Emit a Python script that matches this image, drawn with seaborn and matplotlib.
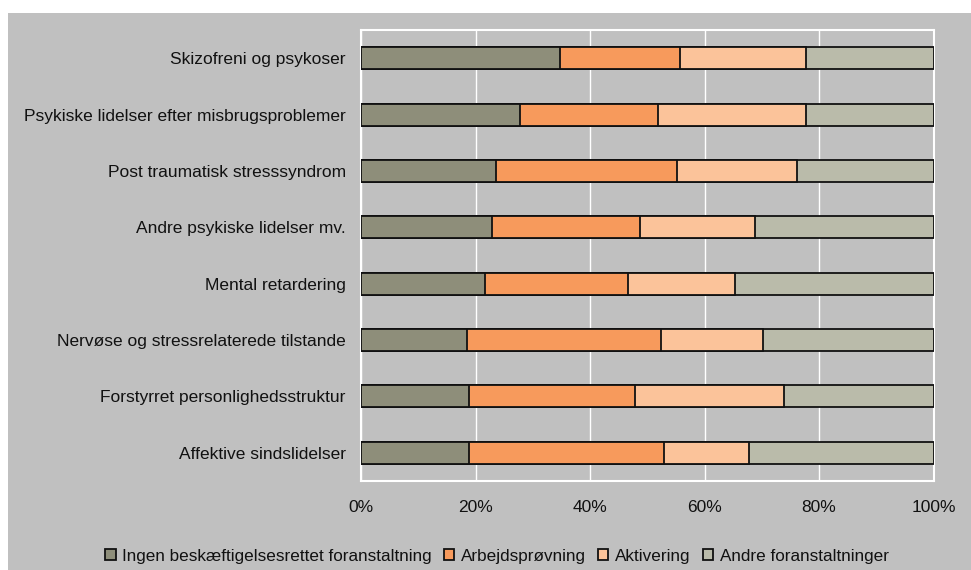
import matplotlib
matplotlib.use("Agg")
import matplotlib.pyplot as plt
import seaborn as sns
import pandas as pd
import numpy as np
from matplotlib.patches import Rectangle, Patch
from matplotlib.ticker import PercentFormatter

categories = [
    "Skizofreni og psykoser",
    "Psykiske lidelser efter misbrugsproblemer",
    "Post traumatisk stresssyndrom",
    "Andre psykiske lidelser mv.",
    "Mental retardering",
    "Nervøse og stressrelaterede tilstande",
    "Forstyrret personlighedsstruktur",
    "Affektive sindslidelser",
]
series_names = [
    "Ingen beskæftigelsesrettet foranstaltning",
    "Arbejdsprøvning",
    "Aktivering",
    "Andre foranstaltninger",
]
ingen = [34.7, 27.7, 23.6, 22.8, 21.6, 18.6, 18.8, 18.9]
arbejd = [21.0, 24.2, 31.6, 26.0, 25.0, 33.8, 29.1, 34.0]
aktiv = [22.1, 25.9, 21.0, 20.1, 18.7, 17.9, 26.0, 14.9]
andre = [22.2, 22.2, 23.8, 31.1, 34.7, 29.7, 26.1, 32.2]
xticks = [0, 20, 40, 60, 80, 100]

colors = ["#8E8E7A", "#F79A5C", "#FBC39A", "#BABBAA"]
bg = "#C0C0C0"

sns.set_theme(style="white")
plt.rcParams["font.family"] = ["Liberation Sans", "DejaVu Sans"]

fig = plt.figure(figsize=(9.71, 5.70), dpi=100, facecolor="white")
fig.patches.append(Rectangle((8 / 971, 0), 1 - 8 / 971, 1 - 13 / 570,
                             transform=fig.transFigure, facecolor=bg,
                             edgecolor="none", zorder=-10))
ax = fig.add_axes([361 / 971, 1 - 481 / 570, (933.5 - 361) / 971, (481 - 30) / 570])
ax.set_facecolor(bg)

vals = np.array([ingen, arbejd, aktiv, andre])
cum = np.cumsum(vals, axis=0)
df = pd.DataFrame({"cat": categories})
for i in range(3, -1, -1):
    df["v"] = cum[i]
    sns.barplot(data=df, x="v", y="cat", orient="h", color=colors[i],
                saturation=1, width=0.39, edgecolor="#111111", linewidth=1.3,
                ax=ax, zorder=3)

ax.set_xlim(0, 100)
ax.set_xticks(xticks)
ax.xaxis.set_major_formatter(PercentFormatter(decimals=0))
ax.grid(axis="x", color="white", linewidth=1.0, zorder=0)
ax.set_axisbelow(True)
for s in ax.spines.values():
    s.set_color("white")
    s.set_linewidth(1.5)
ax.set_xlabel("")
ax.set_ylabel("")
ax.tick_params(axis="y", length=0, pad=11, labelsize=12.5, labelcolor="#111111")
ax.tick_params(axis="x", length=0, pad=14, labelsize=12.5, labelcolor="#111111")

handles = [Patch(facecolor=c, edgecolor="#111111", linewidth=1.3) for c in colors]
leg = fig.legend(handles, series_names, loc="center", bbox_to_anchor=(497 / 971, 1 - 556 / 570),
                 ncol=4, frameon=False, fontsize=12.3, handlelength=0.6, handleheight=0.6,
                 handletextpad=0.4, columnspacing=0.7, borderaxespad=0)
for t in leg.get_texts():
    t.set_color("#111111")

fig.savefig("out.png", dpi=100, facecolor="white")
